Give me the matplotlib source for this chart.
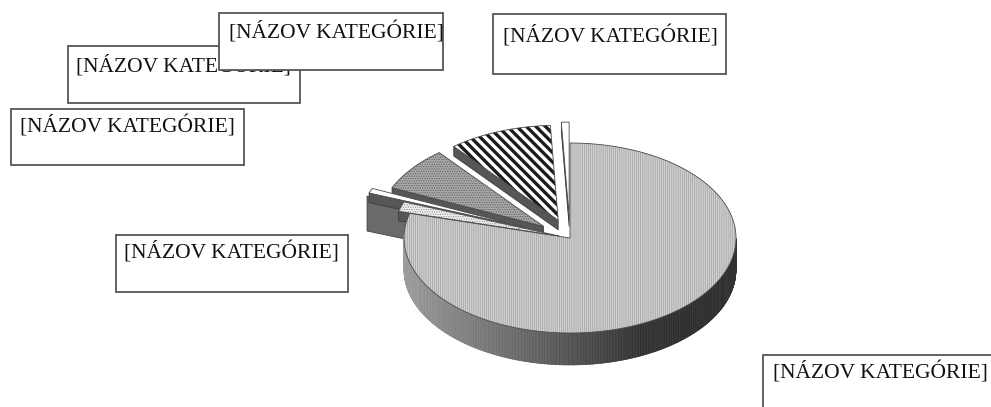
import numpy as np
import matplotlib
matplotlib.use("Agg")
import matplotlib.pyplot as plt
from matplotlib.patches import Rectangle, Polygon

labels = ["[NÁZOV KATEGÓRIE]"] * 6
# clockwise from 12 o'clock
values = [79.17, 1.67, 0.83, 7.5, 10.08, 0.75]
explode = [0.0, 0.07, 0.30, 0.20, 0.20, 0.22]
faces = ["#d0d0d0", "#f0f0f0", "#ffffff", "#a8a8a8", "#ffffff", "#ffffff"]
hatch_cols = ["#a0a0a0", "#888888", "#ffffff", "#5c5c5c", "#ffffff", "#ffffff"]
hatches = ["||||||||", ".......", None, ".......", None, None]
label_boxes = [(763, 355, 240, 60), (116, 235, 232, 57), (493, 14, 233, 60),
               (11, 109, 233, 56), (68, 46, 232, 57), (219, 13, 224, 57)]
text_offsets = [(10, 18), (8, 18), (10, 22), (9, 17), (8, 20), (10, 20)]
box_order = [4, 5, 3, 2, 1, 0]

W, H = 991, 407
CX, CY, RX, RY, DEPTH = 570, 238, 166, 95, 32
plt.rcParams["font.family"] = ["Liberation Serif", "DejaVu Serif"]
plt.rcParams["hatch.linewidth"] = 0.5
fig = plt.figure(figsize=(W / 100, H / 100), dpi=100)
ax = fig.add_axes([0, 0, 1, 1])
ax.set_xlim(0, W); ax.set_ylim(H, 0); ax.axis("off")

edges = np.cumsum([0] + values) / sum(values) * 2 * np.pi


def wedge_xy(t0, t1, dr):
    tm = (t0 + t1) / 2
    ox = CX + dr * RX * np.sin(tm)
    oy = CY - dr * RY * np.cos(tm)
    t = np.linspace(t0, t1, 200)
    return ox, oy, ox + RX * np.sin(t), oy - RY * np.cos(t)


for i in [5, 4, 3, 2, 1, 0]:
    t0, t1 = edges[i], edges[i + 1]
    ox, oy, xs, ys = wedge_xy(t0, t1, explode[i])
    z = 3 if i == 0 else 2.5 - 0.1 * i
    if i == 0:
        t = np.linspace(np.pi / 2, t1, 700)
        ex = ox + RX * np.sin(t)
        ey = oy - RY * np.cos(t)
        for a in range(len(t) - 1):
            f = (ex[a] - (CX - RX)) / (2 * RX)
            shade = 0.62 - 0.42 * np.clip(f * 1.4, 0, 1) + 0.03 * np.sin(a * 1.7)
            ax.fill([ex[a], ex[a + 1], ex[a + 1], ex[a]],
                    [ey[a], ey[a + 1], ey[a + 1] + DEPTH, ey[a] + DEPTH],
                    color=(shade, shade, shade), lw=0.4, zorder=2)
    else:
        th = DEPTH * 0.3
        px = [ox, xs[0], xs[0], ox]
        py = [oy, ys[0], ys[0] + th, oy + th]
        ax.add_patch(Polygon(np.c_[px, py], fc="#565656", ec="#333333", lw=0.5, zorder=z - 0.05))
        if i == 2:
            wall = [(xs[0] - 2, ys[0] + 3), (xs[0] + 36, ys[0] + 18),
                    (xs[0] + 36, ys[0] + 46), (xs[0] - 2, ys[0] + 38)]
            ax.add_patch(Polygon(wall, fc="#6a6a6a", ec="#444444", lw=0.6, zorder=1.2))
    poly = np.c_[np.r_[ox, xs], np.r_[oy, ys]]
    patch = Polygon(poly, fc=faces[i], ec=hatch_cols[i], lw=0, hatch=hatches[i], zorder=z)
    ax.add_patch(patch)
    ax.add_patch(Polygon(poly, fc="none", ec="#4a4a4a", lw=0.6, zorder=z + 0.02))
    if i == 4:
        for c in np.arange(-300, 400, 9.5):
            ln, = ax.plot([CX - 250 + c, CX - 250 + c + 250], [0, 250], color="#1c1c1c",
                          lw=2.4, zorder=z + 0.01, solid_capstyle="butt")
            ln.set_clip_path(patch)

for n, i in enumerate(box_order):
    x, y, w, h = label_boxes[i]
    dx, dy = text_offsets[i]
    ax.add_patch(Rectangle((x, y), w, h, fc="white", ec="#555555", lw=1.3, zorder=10 + 2 * n))
    ax.text(x + dx, y + dy, labels[i], fontsize=15.5, va="center", ha="left",
            color="#111111", zorder=11 + 2 * n)

fig.savefig("out.png", dpi=100)
